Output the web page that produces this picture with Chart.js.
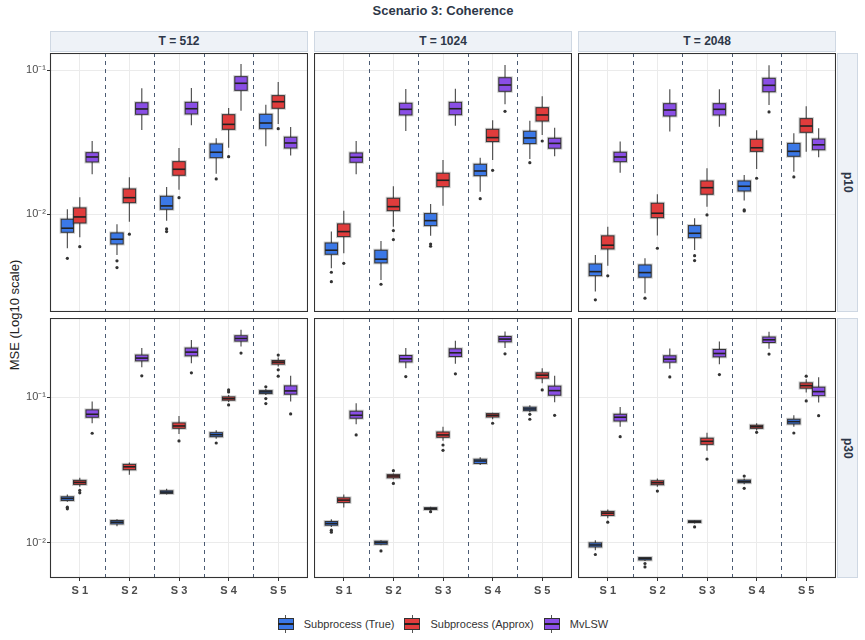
<!DOCTYPE html>
<html>
<head>
<meta charset="utf-8">
<script src="https://cdn.jsdelivr.net/npm/chart.js@4.4.1/dist/chart.umd.min.js"></script>
<style>
  body { margin: 0; background: #fff; font-family: "Liberation Sans", Arial, sans-serif; }
  #wrap { position: relative; width: 865px; height: 640px; overflow: hidden; }
  #wrap canvas { position: absolute; }
  .title { position: absolute; left: 50px; width: 786px; top: 3px; text-align: center;
           font-weight: bold; font-size: 13px; line-height: 16px; color: #2d3748; }
  .cstrip { position: absolute; top: 31px; width: 258px; height: 21px; box-sizing: border-box;
            background: #eef2f7; border: 1px solid #cfd8e3; text-align: center;
            font-weight: bold; font-size: 12px; line-height: 19px; color: #2d3748; }
  .rstrip { position: absolute; left: 837px; width: 21px; box-sizing: border-box;
            background: #eef2f7; border: 1px solid #cfd8e3; color: #2d3748;
            font-weight: bold; font-size: 12px; writing-mode: vertical-rl;
            display: flex; align-items: center; justify-content: center; }
  .ylab { position: absolute; left: 14px; top: 315px; transform: translate(-50%, -50%) rotate(-90deg);
          white-space: nowrap; font-size: 13px; color: #222; }
  .legend { position: absolute; top: 615px; left: 50px; width: 786px; display: flex;
            justify-content: center; align-items: center; font-size: 11px; color: #333; }
  .item { display: flex; align-items: center; margin: 0 5px; }
  .key { position: relative; width: 16px; height: 18px; margin-right: 10px; }
  .key .bx { position: absolute; left: 0; top: 3px; width: 16px; height: 12px; box-sizing: border-box; border: 1px solid #333; }
  .key .md { position: absolute; left: 0; top: 8px; width: 16px; height: 1.5px; background: #222; }
  .key .wt, .key .wb { position: absolute; left: 7.5px; width: 1px; height: 3px; background: #555; }
  .key .wt { top: 0; } .key .wb { top: 15px; }
</style>
</head>
<body>
<div id="wrap">
  <div class="title">Scenario 3: Coherence</div>
  <div class="ylab">MSE (Log10 scale)</div>
  <div class="legend" id="legend"></div>
</div>
<script>
// categories and facets
const categories = ["S 1", "S 2", "S 3", "S 4", "S 5"];
const methods = ["Subprocess (True)", "Subprocess (Approx)", "MvLSW"];
const sampleSizes = ["T = 512", "T = 1024", "T = 2048"];
const dims = ["p10", "p30"];
const yTicks = [0.01, 0.1];
const yTickLabels = ["10\u207B\u00B2", "10\u207B\u00B9"];
const separators = [1.5, 2.5, 3.5, 4.5];

// each box: [lower whisker, Q1, median, Q3, upper whisker, [outliers]]
const p10_T512_true = [[0.00581, 0.0075, 0.0080, 0.00923, 0.01083, [0.00495]], [0.00522, 0.00622, 0.00671, 0.00742, 0.00852, [0.00475, 0.00427]], [0.00903, 0.01083, 0.01142, 0.01332, 0.01546, [0.00791, 0.00758]], [0.01912, 0.02467, 0.0269, 0.03071, 0.03363, [0.01757]], [0.0296, 0.0392, 0.0429, 0.0493, 0.0575, []]];
const p10_T512_approx = [[0.00693, 0.0087, 0.00958, 0.01106, 0.01312, [0.00596]], [0.00888, 0.01203, 0.01303, 0.01497, 0.01804, [0.00727]], [0.01481, 0.01863, 0.0205, 0.02315, 0.0288, [0.01303]], [0.0289, 0.0388, 0.0420, 0.0490, 0.0545, [0.02507]], [0.0422, 0.0543, 0.0603, 0.0664, 0.0826, [0.0392]]];
const p10_T512_mvlsw = [[0.01893, 0.02304, 0.02495, 0.02673, 0.0322, []], [0.0384, 0.0493, 0.0537, 0.0593, 0.0747, []], [0.0414, 0.0496, 0.0539, 0.0597, 0.0750, []], [0.0522, 0.0723, 0.0809, 0.0899, 0.110, []], [0.0255, 0.0288, 0.0312, 0.0342, 0.0403, []]];

const p10_T1024_true = [[0.00422, 0.00528, 0.00563, 0.00632, 0.00758, [0.00396, 0.00341]], [0.0035, 0.0046, 0.00488, 0.00563, 0.00653, [0.00327]], [0.00708, 0.00834, 0.00903, 0.0101, 0.01179, [0.00622, 0.006]], [0.01434, 0.01851, 0.01995, 0.02221, 0.02467, [0.01282]], [0.02416, 0.0309, 0.0338, 0.0376, 0.0445, [0.02278]]];
const p10_T1024_approx = [[0.00537, 0.0070, 0.00758, 0.00857, 0.01059, [0.00457]], [0.0082, 0.01059, 0.01129, 0.01291, 0.01563, [0.0077, 0.00667]], [0.01147, 0.01553, 0.0172, 0.01924, 0.02378, []], [0.02378, 0.0319, 0.034, 0.0388, 0.0448, [0.02017]], [0.0354, 0.0443, 0.0488, 0.0548, 0.0657, [0.0322]]];
const p10_T1024_mvlsw = [[0.01893, 0.02293, 0.02483, 0.0266, 0.0322, []], [0.0378, 0.0488, 0.0534, 0.0588, 0.0738, []], [0.0411, 0.049, 0.0539, 0.0597, 0.0742, []], [0.0579, 0.0712, 0.0787, 0.0884, 0.1083, [0.0517]], [0.02523, 0.0287, 0.031, 0.03363, 0.0398, []]];

const p10_T2048_true = [[0.00291, 0.00375, 0.004, 0.00452, 0.00522, [0.00255]], [0.00283, 0.00366, 0.00394, 0.00445, 0.00495, [0.00262]], [0.00566, 0.00688, 0.00738, 0.00834, 0.00938, [0.00516, 0.00477]], [0.01243, 0.0145, 0.01563, 0.01701, 0.01872, [0.01071, 0.01054]], [0.01973, 0.02523, 0.0273, 0.031, 0.0364, [0.01814]]];
const p10_T2048_approx = [[0.0044, 0.00575, 0.0061, 0.00708, 0.0082, [0.00374]], [0.00711, 0.00947, 0.01016, 0.01192, 0.01376, [0.00581]], [0.01129, 0.01376, 0.01528, 0.01701, 0.02084, [0.00989]], [0.0206, 0.0273, 0.0289, 0.0331, 0.0382, [0.01777]], [0.0271, 0.037, 0.0409, 0.046, 0.056, []]];
const p10_T2048_mvlsw = [[0.01942, 0.02315, 0.02495, 0.0269, 0.0319, []], [0.0374, 0.048, 0.0528, 0.0584, 0.0735, []], [0.0405, 0.0488, 0.0534, 0.0584, 0.0735, []], [0.0572, 0.0707, 0.0783, 0.0876, 0.1078, [0.0512]], [0.02483, 0.028, 0.0303, 0.0332, 0.0394, []]];

const p30_T512_true = [[0.01905, 0.01949, 0.0201, 0.02063, 0.02143, [0.01752, 0.01705]], [0.01295, 0.01343, 0.0138, 0.01418, 0.01447, []], [0.02143, 0.02177, 0.02223, 0.02269, 0.02343, []], [0.0518, 0.0535, 0.0552, 0.057, 0.0592, [0.0484]], [0.1037, 0.1059, 0.1088, 0.111, 0.1141, [0.1178, 0.0978, 0.0904]]];
const p30_T512_approx = [[0.02418, 0.02512, 0.02593, 0.02677, 0.0279, [0.02284, 0.02198]], [0.0293, 0.0317, 0.0332, 0.0345, 0.0356, []], [0.0558, 0.0611, 0.0634, 0.0665, 0.0743, [0.05]], [0.0928, 0.0954, 0.0978, 0.1005, 0.1037, [0.1123, 0.1088, 0.0885]], [0.1625, 0.1689, 0.1743, 0.1788, 0.1875, [0.1949, 0.1542, 0.1396]]];
const p30_T512_mvlsw = [[0.0662, 0.0728, 0.0763, 0.0818, 0.0933, [0.0565]], [0.161, 0.1779, 0.1858, 0.1949, 0.2178, [0.1403]], [0.1716, 0.1927, 0.2043, 0.2178, 0.2472, [0.1471]], [0.2233, 0.2433, 0.2536, 0.2647, 0.2911, [0.2011]], [0.0933, 0.1049, 0.1105, 0.1196, 0.1403, [0.0767]]];

const p30_T1024_true = [[0.01281, 0.01316, 0.01352, 0.01395, 0.01447, [0.01216, 0.01178]], [0.00957, 0.00973, 0.0100, 0.01021, 0.01037, [0.00875]], [0.01652, 0.01689, 0.01716, 0.01733, 0.0176, [0.0163]], [0.0341, 0.035, 0.0364, 0.0374, 0.0386, []], [0.0788, 0.0808, 0.083, 0.0853, 0.0881, [0.0763, 0.0705]]];
const p30_T1024_approx = [[0.01744, 0.01888, 0.01958, 0.0203, 0.02143, []], [0.0273, 0.0279, 0.0287, 0.0293, 0.0299, [0.0312, 0.0255]], [0.0502, 0.053, 0.055, 0.0576, 0.0627, [0.0469, 0.0431]], [0.0705, 0.0731, 0.0751, 0.0771, 0.0783, [0.0662]], [0.1249, 0.1352, 0.1418, 0.1471, 0.1585, [0.1123]]];
const p30_T1024_mvlsw = [[0.0651, 0.0717, 0.0751, 0.0801, 0.0909, [0.055]], [0.1585, 0.175, 0.1837, 0.1936, 0.2178, [0.1387]], [0.1697, 0.1905, 0.2021, 0.2153, 0.2445, [0.1448]], [0.2178, 0.2406, 0.2512, 0.2618, 0.2834, [0.1989]], [0.0924, 0.1032, 0.111, 0.1191, 0.1403, [0.0751]]];

const p30_T2048_true = [[0.00885, 0.00933, 0.00962, 0.00994, 0.01037, [0.00827]], [0.00745, 0.00759, 0.00775, 0.00788, 0.00796, [0.00717, 0.00679]], [0.01352, 0.01374, 0.01395, 0.0141, 0.01425, [0.01281]], [0.0252, 0.0258, 0.0263, 0.0269, 0.0276, [0.02865, 0.0236]], [0.0627, 0.0655, 0.0679, 0.0705, 0.0751, [0.0567]]];
const p30_T2048_approx = [[0.0147, 0.01536, 0.01593, 0.01636, 0.01689, [0.0138]], [0.0242, 0.025, 0.0258, 0.0266, 0.0276, [0.0226]], [0.0428, 0.0474, 0.0497, 0.0522, 0.057, [0.0375]], [0.0589, 0.0611, 0.0627, 0.0641, 0.0662, [0.0573]], [0.1076, 0.1154, 0.1202, 0.1255, 0.1331, [0.1396, 0.0943]]];
const p30_T2048_mvlsw = [[0.0627, 0.0686, 0.0728, 0.0763, 0.0857, [0.0535]], [0.1567, 0.1743, 0.1828, 0.1927, 0.2163, [0.138]], [0.1689, 0.1896, 0.1999, 0.213, 0.2418, [0.1432]], [0.2153, 0.2379, 0.2485, 0.2594, 0.2819, [0.198]], [0.0918, 0.1025, 0.1093, 0.1172, 0.1374, [0.0746]]];

// y range of each row (ggplot expanded limits)
const yRanges = [[0.0021, 0.1312], [0.0057, 0.3508]];

// layout & style
const colors = ["#3b78e7", "#e03c3c", "#8a4ee6"];
const dodge = [-0.25, 0, 0.25];
const boxWidth = 0.25;
const colX = [50, 314, 578];
const panelW = 258;
const rowY = [53, 318];
const rowH = [259, 260];
const yAxisW = 50;
const xAxisH = 22;

Chart.defaults.font.family = '"Liberation Sans", Arial, sans-serif';

const panels = [
  [p10_T512_true, p10_T512_approx, p10_T512_mvlsw],
  [p10_T1024_true, p10_T1024_approx, p10_T1024_mvlsw],
  [p10_T2048_true, p10_T2048_approx, p10_T2048_mvlsw],
  [p30_T512_true, p30_T512_approx, p30_T512_mvlsw],
  [p30_T1024_true, p30_T1024_approx, p30_T1024_mvlsw],
  [p30_T2048_true, p30_T2048_approx, p30_T2048_mvlsw]
];

// no extra padding from tick labels: chart area = panel
function noPad(s) {
  s.paddingTop = 0; s.paddingBottom = 0; s.paddingLeft = 0; s.paddingRight = 0;
}

const boxPlugin = {
  id: "boxes",
  beforeDatasetsDraw(chart, args, opts) {
    const { ctx, chartArea: a, scales: { x, y } } = chart;
    ctx.save();
    ctx.beginPath();
    ctx.rect(a.left, a.top, a.width, a.height);
    ctx.clip();

    // dashed separators between scenarios
    ctx.beginPath();
    ctx.setLineDash([4, 4]);
    ctx.strokeStyle = "rgba(44,62,90,0.85)";
    ctx.lineWidth = 1;
    separators.forEach(v => {
      const px = Math.round(x.getPixelForValue(v)) + 0.5;
      ctx.moveTo(px, a.top);
      ctx.lineTo(px, a.bottom);
    });
    ctx.stroke();
    ctx.setLineDash([]);

    const half = x.getPixelForValue(boxWidth / 2) - x.getPixelForValue(0);
    opts.series.forEach((series, mi) => {
      series.forEach((b, si) => {
        const cx = x.getPixelForValue(si + 1 + dodge[mi]);
        const [lo, q1, med, q3, hi] = b.slice(0, 5).map(v => y.getPixelForValue(v));
        // whiskers
        ctx.beginPath();
        ctx.strokeStyle = "#555";
        ctx.lineWidth = 1.2;
        ctx.moveTo(cx, hi); ctx.lineTo(cx, q3);
        ctx.moveTo(cx, q1); ctx.lineTo(cx, lo);
        ctx.stroke();
        // box
        const l = cx - half, w = half * 2;
        ctx.strokeStyle = "rgba(0,0,0,0.2)";
        ctx.lineWidth = 3;
        ctx.strokeRect(l, q3, w, q1 - q3);
        ctx.fillStyle = colors[mi];
        ctx.fillRect(l, q3, w, q1 - q3);
        ctx.strokeStyle = "#333";
        ctx.lineWidth = 1;
        ctx.strokeRect(l, q3, w, q1 - q3);
        // median
        ctx.beginPath();
        ctx.strokeStyle = "#222";
        ctx.lineWidth = 1.6;
        ctx.moveTo(l, med); ctx.lineTo(l + w, med);
        ctx.stroke();
      });
    });
    ctx.restore();
  },
  afterDraw(chart) {
    const { ctx, chartArea: a } = chart;
    ctx.save();
    ctx.strokeStyle = "#333";
    ctx.lineWidth = 1.1;
    ctx.strokeRect(a.left + 0.5, a.top + 0.5, a.width - 1, a.height - 1);
    ctx.restore();
  }
};

const wrap = document.getElementById("wrap");

panels.forEach((series, pi) => {
  const row = Math.floor(pi / 3), col = pi % 3;
  const isLeft = col === 0, isBottom = row === 1;
  const canvas = document.createElement("canvas");
  const w = panelW + (isLeft ? yAxisW : 0);
  const h = rowH[row] + (isBottom ? xAxisH : 0);
  canvas.width = w; canvas.height = h;
  canvas.style.left = (colX[col] - (isLeft ? yAxisW : 0)) + "px";
  canvas.style.top = rowY[row] + "px";
  wrap.appendChild(canvas);

  new Chart(canvas.getContext("2d"), {
    type: "scatter",
    data: {
      datasets: methods.map((m, mi) => ({
        label: m,
        data: series[mi].flatMap((b, si) => b[5].map(v => ({ x: si + 1 + dodge[mi], y: v }))),
        pointRadius: 1.6,
        pointHoverRadius: 1.6,
        pointBackgroundColor: "#333",
        pointBorderWidth: 0
      }))
    },
    options: {
      responsive: false,
      animation: false,
      layout: { padding: 0, autoPadding: false },
      plugins: { legend: { display: false }, tooltip: { enabled: false }, boxes: { series: series } },
      scales: {
        x: {
          type: "linear", min: 0.4, max: 5.6, bounds: "data",
          afterBuildTicks: s => { s.ticks = categories.map((c, i) => ({ value: i + 1 })); },
          afterFit: s => { s.height = isBottom ? xAxisH : 0; noPad(s); },
          border: { display: false },
          grid: { color: "#ebebeb", lineWidth: 1, drawTicks: isBottom, tickLength: 3, tickColor: "#333" },
          ticks: {
            display: isBottom, autoSkip: false, maxRotation: 0, padding: 3,
            color: "#4d4d4d", font: { size: 11, weight: "bold" },
            callback: v => categories[v - 1]
          }
        },
        y: {
          type: "logarithmic", min: yRanges[row][0], max: yRanges[row][1], bounds: "data",
          afterBuildTicks: s => { s.ticks = yTicks.map(v => ({ value: v })); },
          afterFit: s => { s.width = isLeft ? yAxisW : 0; noPad(s); },
          border: { display: false },
          grid: { color: "#ebebeb", lineWidth: 1, drawTicks: isLeft, tickLength: 3, tickColor: "#333" },
          ticks: {
            display: isLeft, padding: 1, color: "#4d4d4d", font: { size: 11 },
            callback: v => yTickLabels[yTicks.indexOf(v)]
          }
        }
      }
    },
    plugins: [boxPlugin]
  });
});

// facet strips
sampleSizes.forEach((t, i) => {
  const d = document.createElement("div");
  d.className = "cstrip";
  d.style.left = colX[i] + "px";
  d.textContent = t;
  wrap.appendChild(d);
});
dims.forEach((p, i) => {
  const d = document.createElement("div");
  d.className = "rstrip";
  d.style.top = rowY[i] + "px";
  d.style.height = rowH[i] + "px";
  d.textContent = p;
  wrap.appendChild(d);
});

// legend
const legend = document.getElementById("legend");
methods.forEach((m, i) => {
  const it = document.createElement("div");
  it.className = "item";
  it.innerHTML = '<span class="key"><span class="wt"></span><span class="bx" style="background:' + colors[i] +
    '"></span><span class="md"></span><span class="wb"></span></span><span>' + m + '</span>';
  legend.appendChild(it);
});
</script>
</body>
</html>
